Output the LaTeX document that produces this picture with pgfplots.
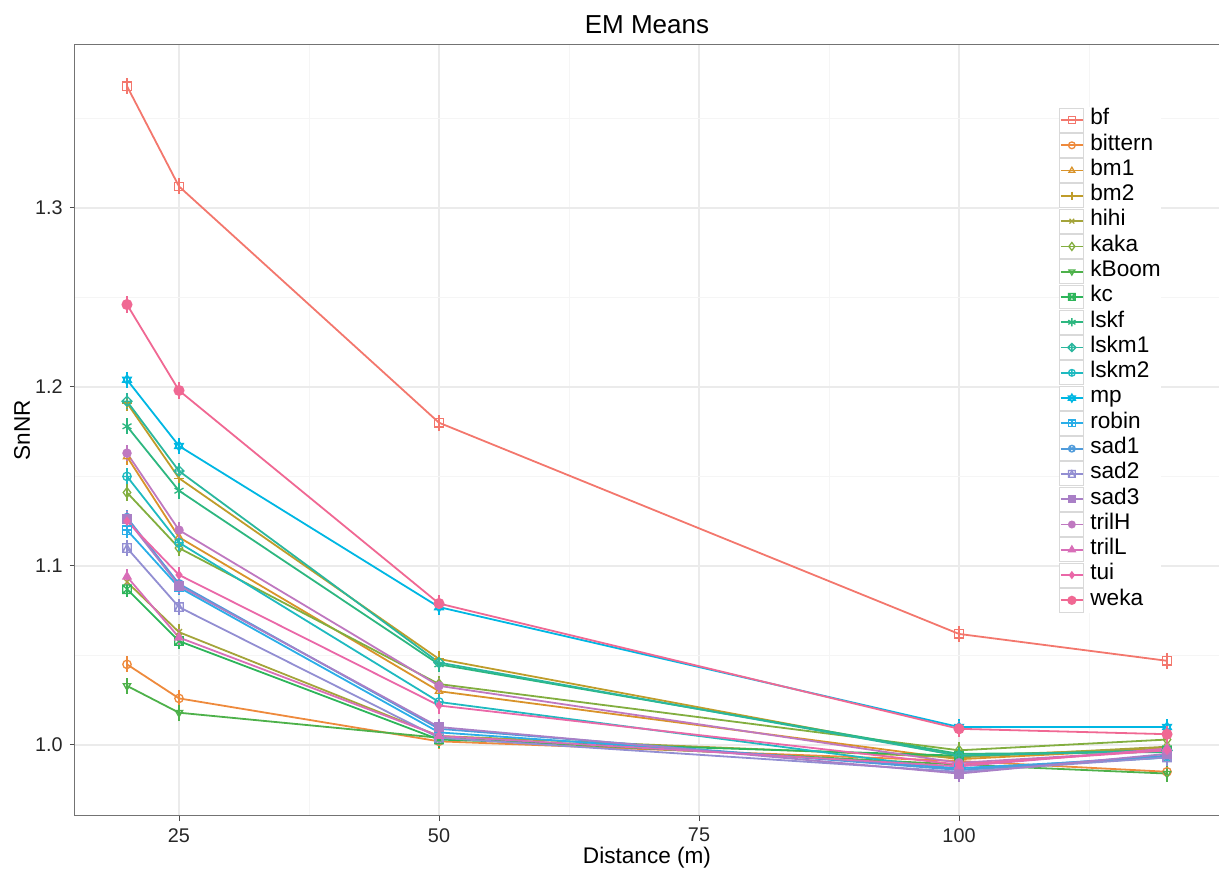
\documentclass[border=0pt]{standalone}
\usepackage{fontspec}
\setmainfont{Liberation Sans}
\usepackage{pgfplots}
\usepackage{pgfplotstable}
\pgfplotsset{compat=1.18}
\usetikzlibrary{plotmarks}

% series colours (evenly spaced hues)
\definecolor{cbf}{HTML}{F3776D}
\definecolor{cbittern}{HTML}{EE8A3C}
\definecolor{cbmA}{HTML}{D9932A}
\definecolor{cbmB}{HTML}{BF9C2A}
\definecolor{chihi}{HTML}{A4A43A}
\definecolor{ckaka}{HTML}{82AE3F}
\definecolor{ckboom}{HTML}{4DB14A}
\definecolor{ckc}{HTML}{2DB55A}
\definecolor{clskf}{HTML}{2DB780}
\definecolor{clskmA}{HTML}{2AB79E}
\definecolor{clskmB}{HTML}{1FBAC0}
\definecolor{cmp}{HTML}{00B7E3}
\definecolor{crobin}{HTML}{2AAEE8}
\definecolor{csadA}{HTML}{4F9BDB}
\definecolor{csadB}{HTML}{928ED2}
\definecolor{csadC}{HTML}{A97FC6}
\definecolor{ctrilH}{HTML}{BF78C0}
\definecolor{ctrilL}{HTML}{D86EB8}
\definecolor{ctui}{HTML}{EA68A8}
\definecolor{cweka}{HTML}{F06893}

% composite point shapes
\pgfdeclareplotmark{sqcross}{%
  \pgfpathrectangle{\pgfqpoint{-\pgfplotmarksize}{-\pgfplotmarksize}}{\pgfqpoint{2\pgfplotmarksize}{2\pgfplotmarksize}}%
  \pgfpathmoveto{\pgfqpoint{-\pgfplotmarksize}{-\pgfplotmarksize}}\pgfpathlineto{\pgfqpoint{\pgfplotmarksize}{\pgfplotmarksize}}%
  \pgfpathmoveto{\pgfqpoint{-\pgfplotmarksize}{\pgfplotmarksize}}\pgfpathlineto{\pgfqpoint{\pgfplotmarksize}{-\pgfplotmarksize}}%
  \pgfusepathqstroke}
\pgfdeclareplotmark{sqplus}{%
  \pgfpathrectangle{\pgfqpoint{-\pgfplotmarksize}{-\pgfplotmarksize}}{\pgfqpoint{2\pgfplotmarksize}{2\pgfplotmarksize}}%
  \pgfpathmoveto{\pgfqpoint{-\pgfplotmarksize}{0pt}}\pgfpathlineto{\pgfqpoint{\pgfplotmarksize}{0pt}}%
  \pgfpathmoveto{\pgfqpoint{0pt}{\pgfplotmarksize}}\pgfpathlineto{\pgfqpoint{0pt}{-\pgfplotmarksize}}%
  \pgfusepathqstroke}
\pgfdeclareplotmark{sqtri}{%
  \pgfpathrectangle{\pgfqpoint{-\pgfplotmarksize}{-\pgfplotmarksize}}{\pgfqpoint{2\pgfplotmarksize}{2\pgfplotmarksize}}%
  \pgfpathmoveto{\pgfqpoint{-\pgfplotmarksize}{-\pgfplotmarksize}}\pgfpathlineto{\pgfqpoint{0pt}{\pgfplotmarksize}}%
  \pgfpathlineto{\pgfqpoint{\pgfplotmarksize}{-\pgfplotmarksize}}%
  \pgfusepathqstroke}
\pgfdeclareplotmark{dmplus}{%
  \pgfpathmoveto{\pgfqpoint{0pt}{1.2\pgfplotmarksize}}\pgfpathlineto{\pgfqpoint{1.2\pgfplotmarksize}{0pt}}%
  \pgfpathlineto{\pgfqpoint{0pt}{-1.2\pgfplotmarksize}}\pgfpathlineto{\pgfqpoint{-1.2\pgfplotmarksize}{0pt}}\pgfpathclose
  \pgfpathmoveto{\pgfqpoint{-1.2\pgfplotmarksize}{0pt}}\pgfpathlineto{\pgfqpoint{1.2\pgfplotmarksize}{0pt}}%
  \pgfpathmoveto{\pgfqpoint{0pt}{1.2\pgfplotmarksize}}\pgfpathlineto{\pgfqpoint{0pt}{-1.2\pgfplotmarksize}}%
  \pgfusepathqstroke}
\pgfdeclareplotmark{davidstar}{%
  \pgfpathmoveto{\pgfqpointpolar{90}{1.2\pgfplotmarksize}}\pgfpathlineto{\pgfqpointpolar{210}{1.2\pgfplotmarksize}}%
  \pgfpathlineto{\pgfqpointpolar{330}{1.2\pgfplotmarksize}}\pgfpathclose
  \pgfpathmoveto{\pgfqpointpolar{270}{1.2\pgfplotmarksize}}\pgfpathlineto{\pgfqpointpolar{30}{1.2\pgfplotmarksize}}%
  \pgfpathlineto{\pgfqpointpolar{150}{1.2\pgfplotmarksize}}\pgfpathclose
  \pgfusepathqstroke}

% mean SnNR by distance (m), one column per species/call type
\pgfplotstableread{
dist bf    bittern bmA   bmB   hihi  kaka  kBoom kc    lskf  lskmA lskmB mp    robin sadA  sadB  sadC  trilH trilL tui   weka
20   1.368 1.045   1.161 1.191 1.091 1.141 1.033 1.087 1.178 1.192 1.150 1.204 1.120 1.127 1.110 1.126 1.163 1.094 1.125 1.246
25   1.312 1.026   1.116 1.149 1.063 1.110 1.018 1.058 1.142 1.153 1.113 1.167 1.088 1.090 1.077 1.089 1.120 1.060 1.095 1.198
50   1.180 1.002   1.030 1.048 1.005 1.034 1.004 1.003 1.045 1.046 1.024 1.077 1.007 1.009 1.004 1.010 1.033 1.005 1.022 1.079
100  1.062 0.991   0.992 0.994 0.993 0.997 0.989 0.994 0.995 0.994 0.986 1.010 0.987 0.986 0.985 0.984 0.990 0.988 0.989 1.009
120  1.047 0.985   0.998 0.998 0.999 1.003 0.984 0.997 0.996 0.997 0.993 1.010 0.993 0.994 0.993 0.995 0.997 0.998 0.997 1.006
}\emdata

\pgfplotsset{
  ser/.style={line width=0.9pt, mark size=2.1pt,
    mark options={solid, line width=0.65pt},
    error bars/y dir=both, error bars/y fixed=0.0045,
    error bars/error mark=none,
    error bars/error bar style={line width=0.85pt}},
}

\begin{document}
\begin{tikzpicture}
\useasboundingbox (-37.5pt,-27pt) rectangle (572pt,408pt);
\begin{axis}[
  at={(0,0)}, anchor=south west,
  scale only axis, width=572pt, height=385.5pt,
  xmin=15, xmax=125, ymin=0.9603, ymax=1.391,
  xtick={25,50,75,100},
  minor xtick={37.5,62.5,87.5,112.5},
  ytick={1.0,1.1,1.2,1.3},
  yticklabels={1.0,1.1,1.2,1.3},
  minor ytick={1.05,1.15,1.25,1.35},
  /pgf/number format/assume math mode=true,
  tick pos=left, tick align=outside,
  major tick length=2.6pt, minor tick length=0pt,
  tick style={black!70, line width=0.5pt},
  grid=both,
  major grid style={black!8, line width=0.9pt},
  minor grid style={black!4, line width=0.5pt},
  axis line style={black!55, line width=0.5pt},
  ticklabel style={font=\fontsize{9.9}{11}\selectfont, text=black!85},
  title={EM Means},
  title style={at={([yshift=-0.5pt]axis description cs:0.5,1)}, anchor=base,
    font=\fontsize{13}{15}\selectfont},
  xlabel={Distance (m)},
  xlabel style={at={([yshift=-24pt]axis description cs:0.5,0)}, anchor=base,
    font=\fontsize{11.3}{13}\selectfont},
  ylabel={SnNR},
  ylabel style={at={([xshift=-22.5pt]axis description cs:0,0.5)}, anchor=base,
    font=\fontsize{11.3}{13}\selectfont},
  legend style={at={(axis description cs:0.8601,0.9198)}, anchor=north west,
    draw=none, fill=white, inner sep=0pt, row sep=0pt,
    font=\fontsize{11.3}{13}\selectfont,
    nodes={inner sep=0pt, text height=8.8pt, text depth=3.84pt, anchor=base west},
    /tikz/every odd column/.append style={column sep=3pt}},
  legend cell align=left,
  legend image code/.code={
    \draw[draw=black!15, fill=white, line width=0.5pt, solid] (0pt,-3.59pt) rectangle (12pt,8.39pt);
    \draw[mark repeat=2, mark phase=2, #1, every mark/.append style={scale=0.8}]
      plot coordinates {(0.5pt,2.4pt) (6pt,2.4pt) (11.5pt,2.4pt)};
  },
]
\addplot[ser, cbf, mark=square] table[x=dist,y=bf]{\emdata};
\addplot[ser, cbittern, mark=o] table[x=dist,y=bittern]{\emdata};
\addplot[ser, cbmA, mark=triangle] table[x=dist,y=bmA]{\emdata};
\addplot[ser, cbmB, mark=+, mark size=2.6pt] table[x=dist,y=bmB]{\emdata};
\addplot[ser, chihi, mark=x] table[x=dist,y=hihi]{\emdata};
\addplot[ser, ckaka, mark=diamond, mark size=2.5pt] table[x=dist,y=kaka]{\emdata};
\addplot[ser, ckboom, mark=triangle, mark options={solid, line width=0.65pt, rotate=180}] table[x=dist,y=kBoom]{\emdata};
\addplot[ser, ckc, mark=sqcross] table[x=dist,y=kc]{\emdata};
\addplot[ser, clskf, mark=asterisk, mark size=2.6pt] table[x=dist,y=lskf]{\emdata};
\addplot[ser, clskmA, mark=dmplus] table[x=dist,y=lskmA]{\emdata};
\addplot[ser, clskmB, mark=oplus] table[x=dist,y=lskmB]{\emdata};
\addplot[ser, cmp, mark=davidstar] table[x=dist,y=mp]{\emdata};
\addplot[ser, crobin, mark=sqplus] table[x=dist,y=robin]{\emdata};
\addplot[ser, csadA, mark=otimes] table[x=dist,y=sadA]{\emdata};
\addplot[ser, csadB, mark=sqtri] table[x=dist,y=sadB]{\emdata};
\addplot[ser, csadC, mark=square*, mark options={solid, draw=csadC, fill=csadC}] table[x=dist,y=sadC]{\emdata};
\addplot[ser, ctrilH, mark=*, mark size=1.9pt, mark options={solid, draw=ctrilH, fill=ctrilH}] table[x=dist,y=trilH]{\emdata};
\addplot[ser, ctrilL, mark=triangle*, mark options={solid, draw=ctrilL, fill=ctrilL}] table[x=dist,y=trilL]{\emdata};
\addplot[ser, ctui, mark=diamond*, mark size=1.7pt, mark options={solid, draw=ctui, fill=ctui}] table[x=dist,y=tui]{\emdata};
\addplot[ser, cweka, mark=*, mark size=2.3pt, mark options={solid, draw=cweka, fill=cweka}] table[x=dist,y=weka]{\emdata};
\legend{bf,bittern,bm1,bm2,hihi,kaka,kBoom,kc,lskf,lskm1,lskm2,mp,robin,sad1,sad2,sad3,trilH,trilL,tui,weka}
\end{axis}
\end{tikzpicture}
\end{document}
